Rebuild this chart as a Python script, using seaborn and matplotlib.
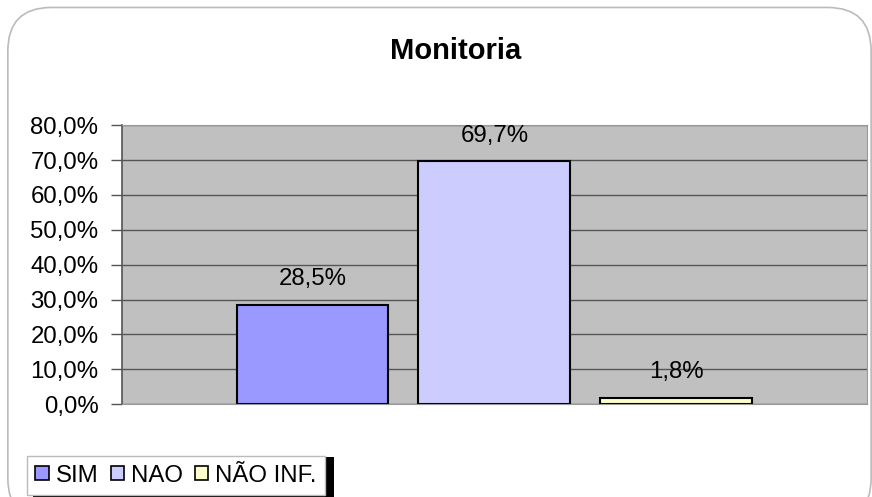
import matplotlib.pyplot as plt
import pandas as pd
import seaborn as sns
from matplotlib.patches import FancyBboxPatch, Rectangle

sns.set_style('white')
plt.rcParams['font.family'] = ['Liberation Sans', 'DejaVu Sans']
plt.rcParams['text.color'] = 'black'
plt.rcParams['ytick.color'] = 'black'

categories = ['SIM', 'NAO', 'NÃO INF.']
values = [28.5, 69.7, 1.8]
colors = ['#9999FF', '#CCCCFF', '#FFFFCC']
yticks = [0, 10, 20, 30, 40, 50, 60, 70, 80]

df = pd.DataFrame({'grupo': ['Monitoria'] * len(categories),
                   'resposta': categories,
                   'pct': values})

fs = 17.3

fig = plt.figure(figsize=(8.72, 4.97), dpi=100)
ax = fig.add_axes([0.14, 0.187, 0.854, 0.561])

# rounded chart-area border
fig.patches.append(FancyBboxPatch((0.009, -0.05), 0.99, 1.035, boxstyle='round,pad=0,rounding_size=0.05',
                                  transform=fig.transFigure, facecolor='none',
                                  edgecolor='#BBBBBB', linewidth=1.2, mutation_aspect=872 / 497,
                                  zorder=-2))

ax.set_facecolor('#C0C0C0')
ax.set_axisbelow(True)
ax.yaxis.grid(True, color='#555555', linewidth=1)

sns.barplot(data=df, x='grupo', y='pct', hue='resposta', hue_order=categories,
            palette=colors, saturation=1, width=0.733, gap=0.165, edgecolor='black',
            linewidth=1.5, ax=ax, legend=True)

for cont in ax.containers:
    for bar in cont:
        h = bar.get_height()
        ax.text(bar.get_x() + bar.get_width() / 2, h + 4.2, f'{h:.1f}%'.replace('.', ','),
                ha='center', va='bottom', fontsize=fs, color='black')

ax.set_xlim(-0.5, 0.5)
ax.set_ylim(0, 80)
ax.set_yticks(yticks)
ax.set_yticklabels([f'{t:.1f}%'.replace('.', ',') for t in yticks], fontsize=fs)
ax.set_xticks([])
ax.set_xlabel('')
ax.set_ylabel('')
ax.tick_params(axis='y', length=8, width=1, color='#555555', labelcolor='black',
               direction='out', left=True, pad=9)
for side in ['top', 'right', 'bottom']:
    ax.spines[side].set_color('#999999')
ax.spines['left'].set_color('#555555')
ax.spines['left'].set_linewidth(1.2)

fig.text(0.522, 0.898, 'Monitoria', ha='center', va='center', fontsize=21,
         fontweight='bold', color='black')

# legend with the black shadow on the right
fig.patches.append(Rectangle((0.038, 0.0), 0.345, 0.081, transform=fig.transFigure,
                             facecolor='black', edgecolor='none', zorder=-1))
handles, labels = ax.get_legend_handles_labels()
for hd in handles:
    hd.set_linewidth(1.2)
leg = ax.legend(handles, labels, ncol=3, loc='lower left', bbox_to_anchor=(0.031, 0.004),
                bbox_transform=fig.transFigure, frameon=True, fancybox=False, fontsize=fs,
                handlelength=0.55, handleheight=0.55, handletextpad=0.3, columnspacing=0.5,
                borderpad=0.35, borderaxespad=0)
leg.get_frame().set_edgecolor('#BBBBBB')
leg.get_frame().set_facecolor('white')
leg.get_frame().set_alpha(1)
leg.get_frame().set_linewidth(1)

fig.savefig('out.png', dpi=100)
